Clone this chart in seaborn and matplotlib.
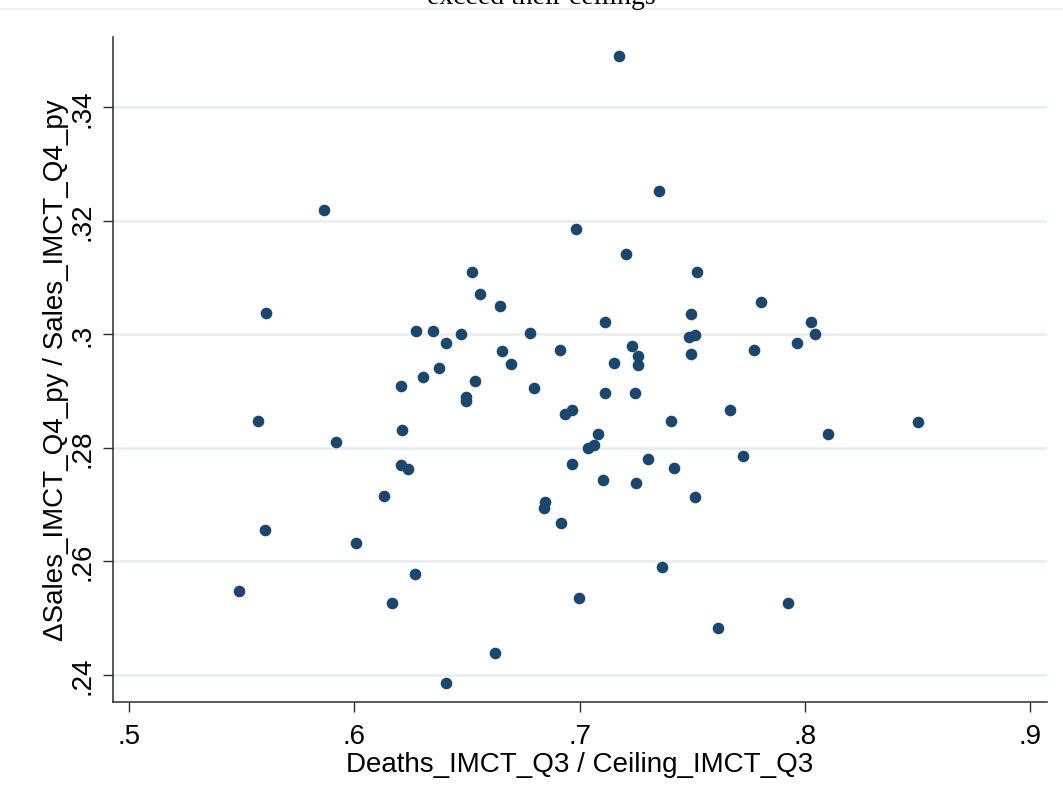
import matplotlib
matplotlib.use("Agg")
import matplotlib.pyplot as plt
from matplotlib.lines import Line2D
import seaborn as sns
import pandas as pd

# Ratio of Q3 deaths to the Q3 ceiling, per unit
deaths_ratio = [
    0.7175, 0.7353, 0.5866, 0.6984, 0.7206, 0.6523, 0.7522, 0.6558, 0.7806, 0.6647,
    0.5608, 0.7495, 0.7113, 0.8028, 0.8046, 0.6350, 0.6274, 0.6474, 0.6780, 0.7486,
    0.7513, 0.6407, 0.7966, 0.7233, 0.6656, 0.6913, 0.7775, 0.7495, 0.7260, 0.7153,
    0.6696, 0.7260, 0.6376, 0.6305, 0.6536, 0.6208, 0.6798, 0.7113, 0.7246, 0.6496,
    0.6496, 0.7668, 0.6967, 0.6936, 0.5573, 0.7406, 0.8503, 0.6212, 0.7082, 0.8103,
    0.5919, 0.7064, 0.7038, 0.7726, 0.7304, 0.6967, 0.6208, 0.6239, 0.7419, 0.7104,
    0.7251, 0.6132, 0.7513, 0.6847, 0.6842, 0.6918, 0.5604, 0.6008, 0.7366, 0.6270,
    0.5488, 0.6998, 0.6168, 0.7926, 0.7615, 0.6625, 0.6407,
]

# Year-on-year change in Q4 sales relative to prior-year Q4 sales
sales_change = [
    0.3491, 0.3252, 0.3219, 0.3186, 0.3142, 0.3110, 0.3110, 0.3071, 0.3056, 0.3050,
    0.3038, 0.3036, 0.3022, 0.3022, 0.3001, 0.3006, 0.3005, 0.3001, 0.3003, 0.2996,
    0.2999, 0.2985, 0.2985, 0.2980, 0.2971, 0.2973, 0.2973, 0.2966, 0.2961, 0.2950,
    0.2947, 0.2945, 0.2940, 0.2924, 0.2918, 0.2908, 0.2906, 0.2896, 0.2897, 0.2889,
    0.2882, 0.2867, 0.2867, 0.2860, 0.2848, 0.2848, 0.2845, 0.2832, 0.2825, 0.2824,
    0.2811, 0.2804, 0.2799, 0.2785, 0.2781, 0.2771, 0.2769, 0.2762, 0.2764, 0.2743,
    0.2737, 0.2715, 0.2713, 0.2704, 0.2694, 0.2667, 0.2655, 0.2632, 0.2590, 0.2578,
    0.2548, 0.2535, 0.2527, 0.2527, 0.2483, 0.2439, 0.2386,
]

x_ticks = [0.5, 0.6, 0.7, 0.8, 0.9]
x_tick_labels = [".5", ".6", ".7", ".8", ".9"]
y_ticks = [0.24, 0.26, 0.28, 0.30, 0.32, 0.34]
y_tick_labels = [".24", ".26", ".28", ".3", ".32", ".34"]

x_label = "Deaths_IMCT_Q3 / Ceiling_IMCT_Q3"
y_label = "\u0394Sales_IMCT_Q4_py / Sales_IMCT_Q4_py"
title_tail = "exceed their ceilings"

df = pd.DataFrame({"ratio": deaths_ratio, "change": sales_change})

sns.set_theme(style="white")
plt.rcParams["font.family"] = ["Liberation Sans", "DejaVu Sans"]

navy = "#1a476f"
grid_col = "#e6eef1"
axis_col = "#2b2b2b"

fig = plt.figure(figsize=(10.63, 8.04), dpi=100)
ax = fig.add_axes([113 / 1063, 1 - 703 / 804, (1047 - 113) / 1063, (703 - 38) / 804])

for yv in y_ticks:
    ax.axhline(yv, color=grid_col, lw=1.8, zorder=0)

sns.scatterplot(data=df, x="ratio", y="change", ax=ax, color=navy,
                s=70, linewidth=0, marker="o", zorder=3)

ax.set_xlim(0.4929, 0.9075)
ax.set_ylim(0.23519, 0.35239)
ax.set_xticks(x_ticks)
ax.set_xticklabels(x_tick_labels)
ax.set_yticks(y_ticks)
ax.set_yticklabels(y_tick_labels, rotation=90, va="center")

ax.tick_params(axis="both", direction="out", length=7.3, width=1.0,
               color=axis_col, labelsize=20, labelcolor="black")
ax.tick_params(axis="x", bottom=True, pad=8)
ax.tick_params(axis="y", left=True, pad=5)

for side in ["top", "right"]:
    ax.spines[side].set_visible(False)
for side in ["left", "bottom"]:
    ax.spines[side].set_color(axis_col)
    ax.spines[side].set_linewidth(1.1)

ax.set_xlabel(x_label, fontsize=20, color="black", labelpad=1)
ax.set_ylabel(y_label, fontsize=20, color="black", labelpad=1)

# Tail of the multi-line title running off the top of the canvas
fig.text(541 / 1063, 1 - 3.5 / 804, title_tail, ha="center", va="baseline",
         fontsize=20, family=["Liberation Serif", "DejaVu Serif"], color="black")
fig.add_artist(Line2D([0, 1], [1 - 10 / 804, 1 - 10 / 804],
                      transform=fig.transFigure, color=grid_col, lw=1.2))

fig.savefig("out.png", dpi=100, facecolor="white")
